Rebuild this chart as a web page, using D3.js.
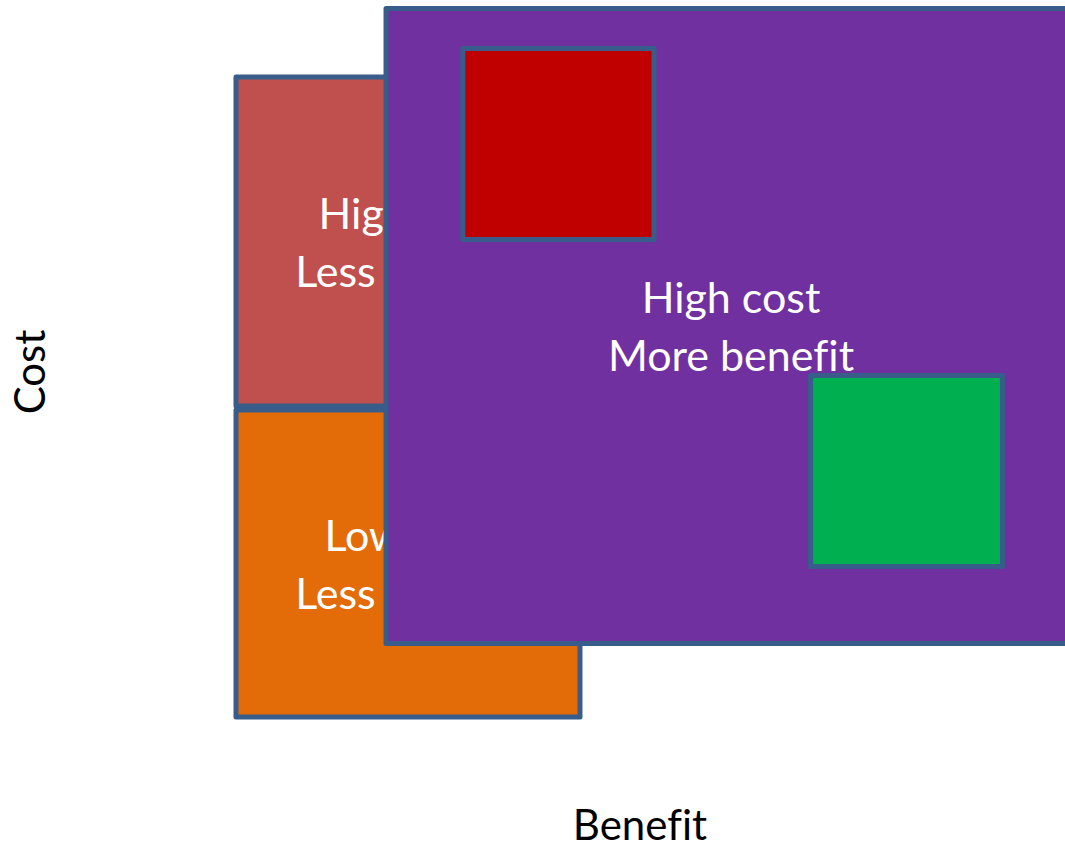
<!DOCTYPE html>
<html><head><meta charset="utf-8">
<script src="https://cdn.jsdelivr.net/npm/d3@7"></script>
<style>html,body{margin:0;padding:0;background:#fff;overflow:hidden} text{font-variant-ligatures:none;font-feature-settings:"liga" 0}</style>
</head><body>
<svg id="c" width="1065" height="848"></svg>
<script>
// Quadrant boxes, in benefit (x: 0-100) and cost (y: 0-100) units
const boxNames = ["High cost / Less benefit", "Low cost / Less benefit", "High cost / More benefit", "Marker red", "Marker green"];
const boxLines = [["High cost", "Less benefit"], ["Low cost", "Less benefit"], ["High cost", "More benefit"], [], []];
const benefitFrom = [0, 0, 17.86, 27.0, 68.4];
const benefitTo   = [40.95, 40.95, 100, 49.76, 91.25];
const costFrom    = [43.86, 0, 10.37, 67.35, 21.23];
const costTo      = [90.27, 43.3, 99.93, 94.29, 48.17];
const boxColors   = ["#C0504D", "#E36C09", "#7030A0", "#C00000", "#00B050"];
const xTitle = "Benefit";
const yTitle = "Cost";

const svg = d3.select("#c");
const x = d3.scaleLinear().domain([0, 100]).range([236, 1076]);
const y = d3.scaleLinear().domain([0, 100]).range([717, 8]);

const data = boxNames.map((n, i) => ({
  name: n, lines: boxLines[i], x0: benefitFrom[i], x1: benefitTo[i],
  y0: costFrom[i], y1: costTo[i], color: boxColors[i]
}));

const g = svg.selectAll("g.box").data(data).join("g").attr("class", "box");
g.append("rect")
  .attr("x", d => x(d.x0))
  .attr("y", d => y(d.y1))
  .attr("width", d => x(d.x1) - x(d.x0))
  .attr("height", d => y(d.y0) - y(d.y1))
  .attr("fill", d => d.color)
  .attr("stroke", "#385D8A")
  .attr("stroke-width", 5)
  .attr("stroke-linejoin", "round");

const fontFam = "Lato, 'Open Sans', sans-serif";
g.each(function(d) {
  if (!d.lines.length) return;
  const cx = (x(d.x0) + x(d.x1)) / 2;
  const cy = (y(d.y0) + y(d.y1)) / 2;
  const t = d3.select(this).append("text")
    .attr("text-anchor", "middle")
    .attr("fill", "#fff")
    .attr("font-family", fontFam)
    .attr("font-size", 43);
  d.lines.forEach((ln, k) => {
    t.append("tspan").attr("x", cx).attr("y", cy + 16 + (k - 0.5) * 58).text(ln);
  });
});

svg.append("text")
  .attr("x", 640).attr("y", 840)
  .attr("text-anchor", "middle")
  .attr("font-family", fontFam).attr("font-size", 42).attr("fill", "#000")
  .text(xTitle);

svg.append("text")
  .attr("transform", "translate(45,372) rotate(-90)")
  .attr("text-anchor", "middle")
  .attr("font-family", fontFam).attr("font-size", 42).attr("fill", "#000")
  .text(yTitle);
</script>
</body></html>
